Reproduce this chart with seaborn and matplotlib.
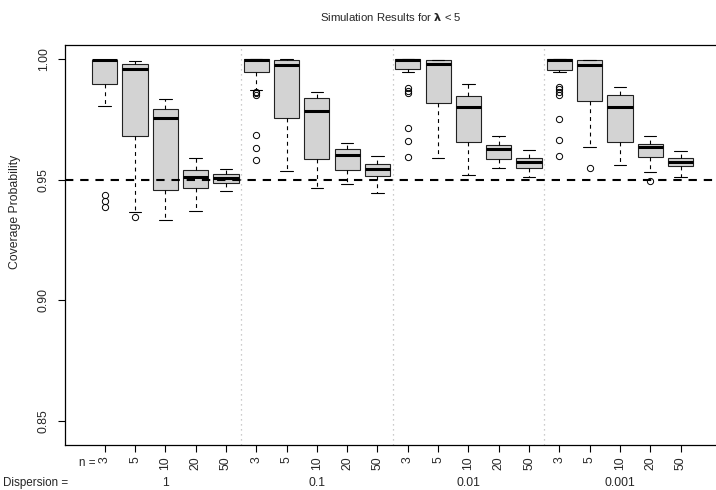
import matplotlib
matplotlib.use("Agg")
import matplotlib.pyplot as plt
import matplotlib.transforms as mtransforms
import seaborn as sns

sns.set_theme(style="ticks")
plt.rcParams["font.family"] = ["Liberation Sans", "DejaVu Sans"]

# ── data (coverage probability summaries) ────────────────────────────────────
DISPERSION = ["1", "0.1", "0.01", "0.001"]
N_VALUES = ["3", "5", "10", "20", "50"]

WHIS_HI = [0.9997, 0.9994, 0.9835, 0.9589, 0.9544,
           1.0000, 1.0000, 0.9863, 0.9654, 0.9600,
           1.0000, 0.9998, 0.9896, 0.9682, 0.9625,
           1.0000, 0.9998, 0.9885, 0.9682, 0.9618]
Q3 = [0.9997, 0.9979, 0.9795, 0.9542, 0.9525,
      1.0000, 0.9997, 0.9838, 0.9629, 0.9564,
      1.0000, 0.9997, 0.9848, 0.9644, 0.9589,
      1.0000, 0.9997, 0.9851, 0.9650, 0.9589]
MEDIAN = [0.9995, 0.9959, 0.9758, 0.9511, 0.9509,
          0.9998, 0.9976, 0.9785, 0.9602, 0.9545,
          0.9998, 0.9979, 0.9803, 0.9629, 0.9574,
          0.9998, 0.9978, 0.9803, 0.9635, 0.9573]
Q1 = [0.9898, 0.9682, 0.9458, 0.9466, 0.9486,
      0.9946, 0.9755, 0.9586, 0.9539, 0.9515,
      0.9961, 0.9820, 0.9656, 0.9586, 0.9550,
      0.9954, 0.9827, 0.9658, 0.9593, 0.9556]
WHIS_LO = [0.9807, 0.9366, 0.9333, 0.9372, 0.9453,
           0.9873, 0.9535, 0.9467, 0.9481, 0.9444,
           0.9947, 0.9589, 0.9520, 0.9548, 0.9513,
           0.9947, 0.9635, 0.9561, 0.9533, 0.9513]
OUTLIERS = [[0.9437, 0.9413, 0.9388], [0.9345], [], [], [],
            [0.9866, 0.9858, 0.9852, 0.9686, 0.9633, 0.9582], [], [], [], [],
            [0.9882, 0.9870, 0.9859, 0.9716, 0.9661, 0.9593], [], [], [], [],
            [0.9886, 0.9875, 0.9864, 0.9852, 0.9751, 0.9664, 0.9599], [0.9550], [], [0.9496], []]

TARGET = 0.95

stats = []
for i in range(len(MEDIAN)):
    stats.append({"whislo": WHIS_LO[i], "q1": Q1[i], "med": MEDIAN[i],
                  "q3": Q3[i], "whishi": WHIS_HI[i], "fliers": OUTLIERS[i]})
positions = list(range(1, len(stats) + 1))

fig = plt.figure(figsize=(7.16, 4.9), dpi=100)
ax = fig.add_axes([65 / 716, 45 / 490, 651 / 716, 400 / 490])

ax.bxp(stats, positions=positions, widths=0.83, patch_artist=True,
       showfliers=True,
       boxprops=dict(facecolor="#d3d3d3", edgecolor="#222222", linewidth=0.8),
       medianprops=dict(color="black", linewidth=2.2, solid_capstyle="butt"),
       whiskerprops=dict(color="black", linewidth=0.8, linestyle=(0, (3.5, 3.5))),
       capprops=dict(color="black", linewidth=0.8),
       capwidths=0.41,
       flierprops=dict(marker="o", markerfacecolor="none", markeredgecolor="black",
                       markersize=4.5, markeredgewidth=0.7, linestyle="none"))

ax.axhline(TARGET, color="black", linewidth=1.5, linestyle=(0, (4, 3.3)), zorder=5)
for sep in [5.5, 10.5, 15.5]:
    ax.axvline(sep, color="#bbbbbb", linewidth=0.9, linestyle=(0, (1, 3)), zorder=0)

ax.set_xlim(-0.31, 21.17)
ax.set_ylim(0.8399, 1.0059)
ax.set_yticks([0.85, 0.90, 0.95, 1.00])
ax.set_yticklabels(["0.85", "0.90", "0.95", "1.00"], rotation=90, va="center", fontsize=8.8)
ax.set_xticks(positions)
ax.set_xticklabels(N_VALUES * len(DISPERSION), rotation=90, fontsize=8.8)
ax.tick_params(axis="both", length=5, width=0.8, color="black", pad=3)
ax.tick_params(axis="y", pad=6)
ax.set_ylabel("Coverage Probability", fontsize=8.8)
ax.yaxis.set_label_coords(-0.068, 0.5825)

for side in ["left", "top", "bottom"]:
    ax.spines[side].set_color("black")
    ax.spines[side].set_linewidth(0.9)
ax.spines["right"].set_visible(False)

ax.set_title(r"Simulation Results for $\mathbf{\lambda}$ < 5", fontsize=8.2, pad=17)

# ── group labels under the axis ──────────────────────────────────────────────
trans = mtransforms.blended_transform_factory(ax.transData, fig.transFigure)
fig.text(95 / 716, 1 - 463 / 490, "n =", fontsize=8.4, ha="right", va="center")
fig.text(3 / 716, 1 - 483 / 490, "Dispersion =", fontsize=8.4, ha="left", va="center")
for k, lab in enumerate(DISPERSION):
    ax.text(3 + 5 * k, 1 - 483 / 490, lab, transform=trans, fontsize=8.8,
            ha="center", va="center")

fig.savefig("out.png", dpi=100)
